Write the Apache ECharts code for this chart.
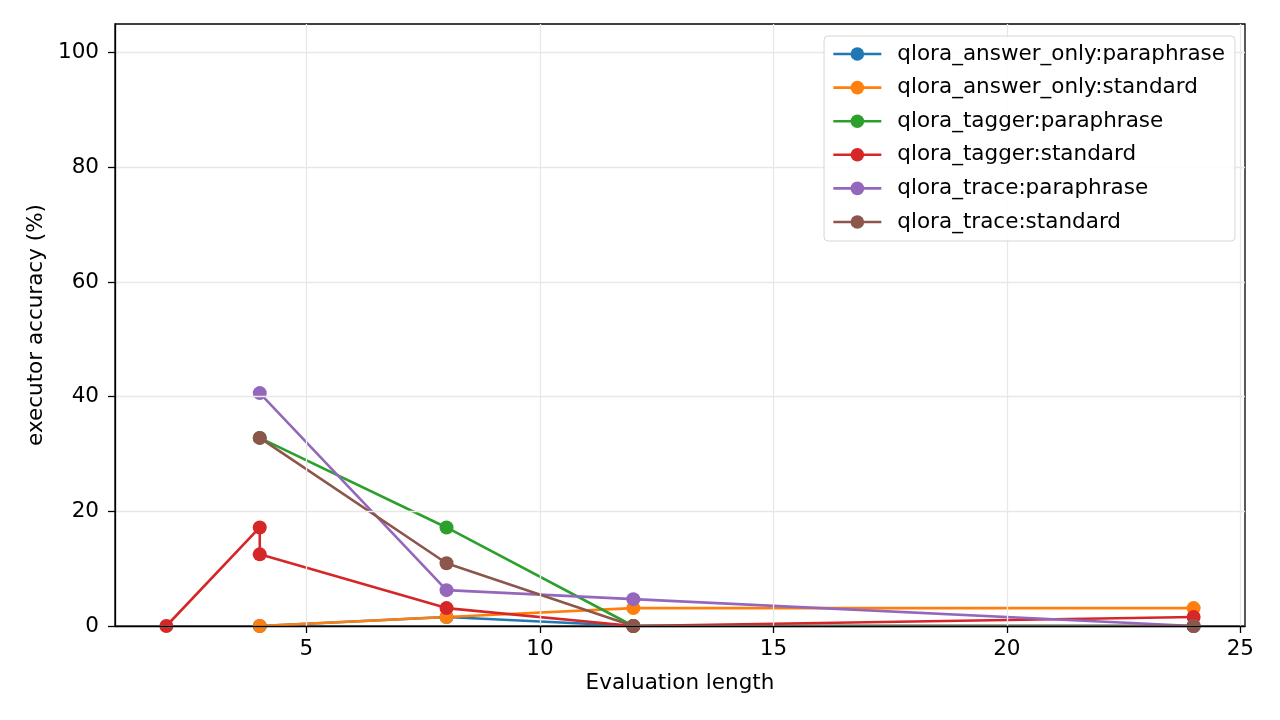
<!DOCTYPE html>
<html>
<head>
<meta charset="utf-8">
<script src="https://cdn.jsdelivr.net/npm/echarts@6/dist/echarts.min.js"></script>
<style>
html,body{margin:0;padding:0;background:#fff;}
#chart{width:1280px;height:720px;}
</style>
</head>
<body>
<div id="chart"></div>
<script>
// ---- data ----
const seriesNames = [
  'qlora_answer_only:paraphrase',
  'qlora_answer_only:standard',
  'qlora_tagger:paraphrase',
  'qlora_tagger:standard',
  'qlora_trace:paraphrase',
  'qlora_trace:standard'
];
const colors = ['#1f77b4','#ff7f0e','#2ca02c','#d62728','#9467bd','#8c564b'];

const answerOnlyParaphraseX = [4, 8, 12, 24];
const answerOnlyParaphraseY = [0, 1.5625, 0, 0];
const answerOnlyStandardX = [4, 8, 12, 24];
const answerOnlyStandardY = [0, 1.5625, 3.125, 3.125];
const taggerParaphraseX = [4, 8, 12, 24];
const taggerParaphraseY = [32.8125, 17.1875, 0, 0];
const taggerStandardX = [2, 4, 4, 8, 12, 24];
const taggerStandardY = [0, 17.1875, 12.5, 3.125, 0, 1.5625];
const traceParaphraseX = [4, 8, 12, 24];
const traceParaphraseY = [40.625, 6.25, 4.6875, 0];
const traceStandardX = [4, 8, 12, 24];
const traceStandardY = [32.8125, 10.9375, 0, 0];

const xTicks = [5, 10, 15, 20, 25];
const yTicks = [0, 20, 40, 60, 80, 100];

const allX = [answerOnlyParaphraseX, answerOnlyStandardX, taggerParaphraseX, taggerStandardX, traceParaphraseX, traceStandardX];
const allY = [answerOnlyParaphraseY, answerOnlyStandardY, taggerParaphraseY, taggerStandardY, traceParaphraseY, traceStandardY];

const FONT = 'DejaVu Sans';
const FS = 21.5;
const chart = echarts.init(document.getElementById('chart'), null, {renderer: 'canvas'});

const series = seriesNames.map((name, i) => ({
  name: name,
  type: 'line',
  data: allX[i].map((x, j) => [x, allY[i][j]]),
  symbol: 'circle',
  symbolSize: 14,
  showSymbol: true,
  lineStyle: {width: 2.6, color: colors[i]},
  itemStyle: {color: colors[i]},
  emphasis: {disabled: true},
  clip: true,
  animation: false
}));

chart.setOption({
  animation: false,
  color: colors,
  textStyle: {fontFamily: FONT, color: '#000'},
  grid: {
    left: 115, right: 35, top: 24, bottom: 94,
    show: true, borderColor: '#000', borderWidth: 1.3,
    backgroundColor: 'transparent'
  },
  legend: {
    z: 30,
    orient: 'vertical',
    right: 45,
    top: 36,
    data: seriesNames,
    itemWidth: 48,
    itemHeight: 17,
    itemGap: 11.6,
    padding: [7, 10, 8, 8],
    borderColor: '#d6d6d6',
    borderWidth: 1,
    borderRadius: 4,
    backgroundColor: 'rgba(255,255,255,0.85)',
    lineStyle: {width: 2.6},
    textStyle: {fontFamily: FONT, fontSize: FS, color: '#000', padding: [0, 0, 0, 11]},
    selectedMode: false
  },
  xAxis: {
    type: 'value',
    min: 0.9,
    max: 25.1,
    z: 10,
    name: 'Evaluation length',
    nameLocation: 'middle',
    nameGap: 46,
    nameTextStyle: {fontFamily: FONT, fontSize: FS, color: '#000'},
    axisLine: {show: true, onZero: false, lineStyle: {color: '#000', width: 1.3}},
    axisTick: {show: true, length: 7, lineStyle: {color: '#000', width: 1.3}, customValues: xTicks},
    axisLabel: {fontFamily: FONT, fontSize: FS, color: '#000', margin: 12, customValues: xTicks},
    splitLine: {show: true, lineStyle: {color: '#e8e8e8', width: 1.3}}
  },
  yAxis: {
    type: 'value',
    min: 0,
    max: 105,
    z: 10,
    name: 'executor accuracy (%)',
    nameLocation: 'middle',
    nameGap: 66,
    nameTextStyle: {fontFamily: FONT, fontSize: FS, color: '#000'},
    axisLine: {show: true, onZero: false, lineStyle: {color: '#000', width: 1.3}},
    axisTick: {show: true, length: 7, lineStyle: {color: '#000', width: 1.3}, customValues: yTicks},
    axisLabel: {fontFamily: FONT, fontSize: FS, color: '#000', margin: 16, customValues: yTicks},
    splitLine: {show: true, lineStyle: {color: '#e8e8e8', width: 1.3}}
  },
  series: series
});
</script>
</body>
</html>
